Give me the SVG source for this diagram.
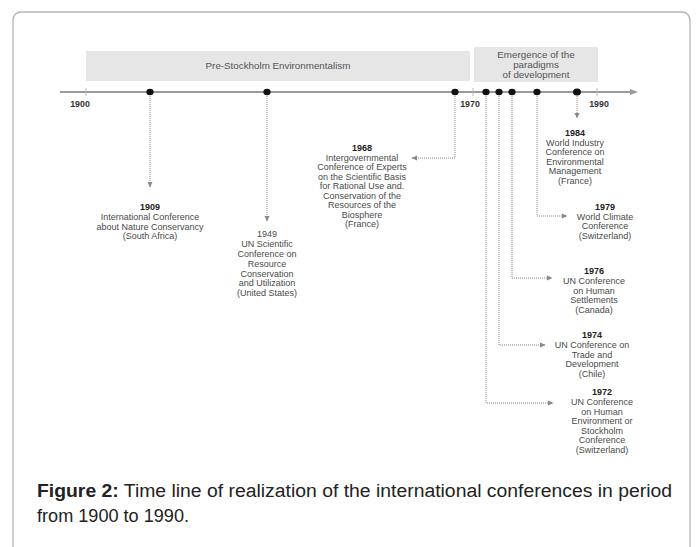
<svg xmlns="http://www.w3.org/2000/svg" width="696" height="547" viewBox="0 0 696 547">
<style>
.t{font-family:"Liberation Sans",Arial,sans-serif;font-size:9px;fill:#4a4a4a;text-anchor:middle}
.y{font-weight:bold;fill:#222}
.ax{font-family:"Liberation Sans",Arial,sans-serif;font-size:8.8px;font-weight:bold;fill:#333;text-anchor:middle}
.band{fill:#e6e6e6}
.bt{font-family:"Liberation Sans",Arial,sans-serif;font-size:9.8px;fill:#555;text-anchor:middle}
.c{fill:none;stroke:#888;stroke-width:1;stroke-dasharray:1 1}
.cap{font-family:"Liberation Sans",Arial,sans-serif;font-size:18px;fill:#222}
</style>
<defs>
<marker id="ah" markerWidth="6" markerHeight="6" refX="5" refY="3" orient="auto" markerUnits="userSpaceOnUse">
<path d="M0,0.5 L5.5,3 L0,5.5 Z" fill="#888"/>
</marker>
</defs>
<rect x="0" y="0" width="696" height="547" fill="#fff"/>
<path d="M13,560 L13,21 Q13,12 22,12 L681,12 Q690,12 690,21 L690,560" fill="none" stroke="#b5b5b5" stroke-width="1.3"/>
<g id="bands">
<rect class="band" x="86" y="51" width="384" height="30"/>
<text class="bt" x="278" y="69">Pre-Stockholm Environmentalism</text>
<rect class="band" x="474" y="47" width="124" height="35"/>
<text class="bt" x="536" y="58">Emergence of the</text>
<text class="bt" x="536" y="68">paradigms</text>
<text class="bt" x="536" y="78">of development</text>
</g>
<g id="axis">
<line x1="60" y1="92" x2="632" y2="92" stroke="#777" stroke-width="1.3"/>
<path d="M630,89 L638,92 L630,95 Z" fill="#999"/>
<line x1="86" y1="88" x2="86" y2="96" stroke="#bbb" stroke-width="1"/>
<line x1="473" y1="88" x2="473" y2="96" stroke="#bbb" stroke-width="1"/>
<line x1="597" y1="88" x2="597" y2="96" stroke="#bbb" stroke-width="1"/>
<text class="ax" x="80" y="107">1900</text>
<text class="ax" x="470" y="107">1970</text>
<text class="ax" x="599" y="107">1990</text>
</g>
<g id="connectors">
<path class="c" d="M150,94 L150,187" marker-end="url(#ah)"/>
<path class="c" d="M267,94 L267,221" marker-end="url(#ah)"/>
<path class="c" d="M455,94 L455,158 L412,158" marker-end="url(#ah)"/>
<path class="c" d="M577,94 L577,118" marker-end="url(#ah)"/>
<path class="c" d="M537,94 L537,216 L567,216" marker-end="url(#ah)"/>
<path class="c" d="M512,94 L512,278 L552,278" marker-end="url(#ah)"/>
<path class="c" d="M499,94 L499,345 L545,345" marker-end="url(#ah)"/>
<path class="c" d="M486,94 L486,403 L553,403" marker-end="url(#ah)"/>
</g>
<g id="dots" fill="#111">
<ellipse cx="150" cy="92" rx="3.6" ry="3.3"/>
<ellipse cx="267" cy="92" rx="3.6" ry="3.3"/>
<ellipse cx="455" cy="92" rx="3.6" ry="3.3"/>
<ellipse cx="486" cy="92" rx="3.6" ry="3.3"/>
<ellipse cx="499" cy="92" rx="3.6" ry="3.3"/>
<ellipse cx="512" cy="92" rx="3.6" ry="3.3"/>
<ellipse cx="537" cy="92" rx="3.6" ry="3.3"/>
<ellipse cx="577" cy="92" rx="4" ry="3.6"/>
</g>
<g id="e1909">
<text class="t y" x="150" y="210">1909</text>
<text class="t" x="150" y="220">International Conference</text>
<text class="t" x="150" y="229.5">about Nature Conservancy</text>
<text class="t" x="150" y="239">(South Africa)</text>
</g>
<g id="e1949">
<text class="t" x="267" y="237">1949</text>
<text class="t" x="267" y="247">UN Scientific</text>
<text class="t" x="267" y="257">Conference on</text>
<text class="t" x="267" y="267">Resource</text>
<text class="t" x="267" y="276.5">Conservation</text>
<text class="t" x="267" y="286">and Utilization</text>
<text class="t" x="267" y="296">(United States)</text>
</g>
<g id="e1968">
<text class="t y" x="362" y="151">1968</text>
<text class="t" x="362" y="160.5">Intergovernmental</text>
<text class="t" x="362" y="170">Conference of Experts</text>
<text class="t" x="362" y="179.5">on the Scientific Basis</text>
<text class="t" x="362" y="189">for Rational Use and.</text>
<text class="t" x="362" y="198.5">Conservation of the</text>
<text class="t" x="362" y="208">Resources of the</text>
<text class="t" x="362" y="217.5">Biosphere</text>
<text class="t" x="362" y="227">(France)</text>
</g>
<g id="e1984">
<text class="t y" x="575" y="136">1984</text>
<text class="t" x="575" y="145.5">World Industry</text>
<text class="t" x="575" y="155">Conference on</text>
<text class="t" x="575" y="164.5">Environmental</text>
<text class="t" x="575" y="174">Management</text>
<text class="t" x="575" y="183.5">(France)</text>
</g>
<g id="e1979">
<text class="t y" x="605" y="210">1979</text>
<text class="t" x="605" y="219.5">World Climate</text>
<text class="t" x="605" y="229">Conference</text>
<text class="t" x="605" y="238.5">(Switzerland)</text>
</g>
<g id="e1976">
<text class="t y" x="594" y="274">1976</text>
<text class="t" x="594" y="284">UN Conference</text>
<text class="t" x="594" y="293.5">on Human</text>
<text class="t" x="594" y="303">Settlements</text>
<text class="t" x="594" y="312.5">(Canada)</text>
</g>
<g id="e1974">
<text class="t y" x="592" y="338">1974</text>
<text class="t" x="592" y="348">UN Conference on</text>
<text class="t" x="592" y="357.5">Trade and</text>
<text class="t" x="592" y="367">Development</text>
<text class="t" x="592" y="376.5">(Chile)</text>
</g>
<g id="e1972">
<text class="t y" x="602" y="395">1972</text>
<text class="t" x="602" y="405">UN Conference</text>
<text class="t" x="602" y="414.5">on Human</text>
<text class="t" x="602" y="424">Environment or</text>
<text class="t" x="602" y="433.5">Stockholm</text>
<text class="t" x="602" y="443">Conference</text>
<text class="t" x="602" y="452.5">(Switzerland)</text>
</g>
<g id="caption">
<text class="cap" x="37" y="497" textLength="635" lengthAdjust="spacingAndGlyphs"><tspan font-weight="bold">Figure 2:</tspan> Time line of realization of the international conferences in period</text>
<text class="cap" x="37" y="522" textLength="152" lengthAdjust="spacingAndGlyphs">from 1900 to 1990.</text>
</g>
</svg>
